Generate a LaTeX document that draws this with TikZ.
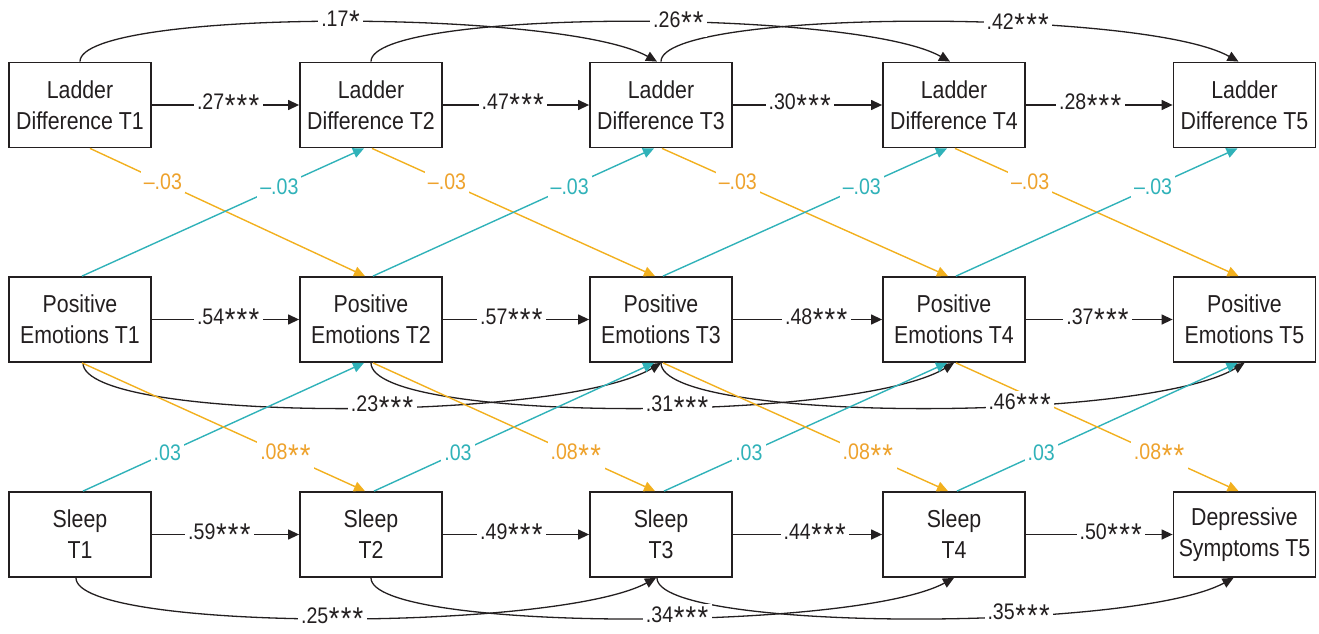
\documentclass[tikz,border=0pt]{standalone}
\usepackage{fontspec}
\usepackage{graphicx}
\setmainfont{Liberation Sans}[FakeStretch=0.87]
\usetikzlibrary{arrows.meta}
\definecolor{orline}{HTML}{F2B01E}
\definecolor{ortext}{HTML}{EEA22C}
\definecolor{tealc}{HTML}{30B2B9}
\definecolor{ink}{HTML}{231F20}
\newcommand\sg{\kern0.6pt\raisebox{-6.4pt}{\scalebox{1.4}{*}}\kern0.6pt}
\begin{document}
\begin{tikzpicture}[x=1pt,y=-1pt,
  box/.style={draw=ink,line width=1.8pt,fill=white,minimum width=142pt,minimum height=85pt,inner sep=0pt,align=center,text=ink,font=\fontsize{24.5}{31}\selectfont},
  blk/.style={draw=ink,line width=1.3pt,-{Triangle[length=11pt,width=10pt]}},
  orn/.style={draw=orline,line width=1.4pt,-{Triangle[length=11pt,width=10pt]}},
  tea/.style={draw=tealc,line width=1.4pt,-{Triangle[length=11pt,width=10pt]}},
  lab/.style={fill=white,inner sep=3pt,font=\fontsize{22.5}{22.5}\selectfont,text=ink},
  olab/.style={lab,text=ortext},
  tlab/.style={lab,text=tealc}]
\useasboundingbox (0,0) rectangle (1319,634);
% boxes
\foreach \i/\x in {1/80,2/371,3/661,4/954,5/1244.5} {
  \node[box] (L\i) at (\x,105) {Ladder\\Difference T\i};
  \node[box] (P\i) at (\x,319.5) {Positive\\Emotions T\i};
}
\foreach \i/\x in {1/80,2/371,3/661,4/954} {
  \node[box] (S\i) at (\x,534.5) {Sleep\\T\i};
}
\node[box] (S5) at (1244.5,534.5) {Depressive\\Symptoms T5};
% lag-2 arcs
\draw[blk] (L1.north) .. controls +(0,-53) and +(-95,-53) .. ([xshift=-4pt]L3.north) coordinate[pos=0.51] (u1);
\draw[blk] (L2.north) .. controls +(0,-53) and +(-95,-53) .. ([xshift=-4pt]L4.north) coordinate[pos=0.567] (u2);
\draw[blk] (L3.north) .. controls +(0,-53) and +(-95,-53) .. ([xshift=-6pt]L5.north) coordinate[pos=0.63] (u3);
\draw[blk] ([xshift=3pt]P1.south) .. controls +(0,60) and +(-100,60) .. (P3.south) coordinate[pos=0.56] (m1);
\draw[blk] (P2.south) .. controls +(0,60) and +(-100,60) .. (P4.south) coordinate[pos=0.565] (m2);
\draw[blk] (P3.south) .. controls +(0,60) and +(-100,60) .. (P5.south) coordinate[pos=0.63] (m3);
\draw[blk] ([xshift=-4pt]S1.south) .. controls +(0,54) and +(-100,54) .. ([xshift=-5pt]S3.south) coordinate[pos=0.505] (d1);
\draw[blk] (S2.south) .. controls +(0,54) and +(-100,54) .. (S4.south) coordinate[pos=0.565] (d2);
\draw[blk] ([xshift=-4pt]S3.south) .. controls +(0,54) and +(-100,54) .. ([xshift=-11pt]S5.south) coordinate[pos=0.64] (d3);
% cross-lagged diagonals
\foreach \i/\j/\o in {1/2/10,2/3/1,3/4/1,4/5/1} {
  \draw[orn] ([xshift=\o pt]L\i.south) -- ([xshift=-6pt]P\j.north) coordinate[pos=0.265] (oa\i);
  \draw[tea] ([xshift=2pt]P\i.north) -- ([xshift=-7pt]L\j.south) coordinate[pos=0.70] (ta\i);
  \draw[tea] ([xshift=3pt]S\i.north) -- ([xshift=-7pt]P\j.south) coordinate[pos=0.30] (tb\i);
  \draw[orn] ([xshift=2pt]P\i.south) -- ([xshift=-6pt]S\j.north) coordinate[pos=0.72] (ob\i);
}
% autoregressive paths
\foreach \a/\b/\p/\n in {L1/L2/0.52/hL1,L2/L3/0.48/hL2,L3/L4/0.45/hL3,L4/L5/0.44/hL4,
                          P1/P2/0.52/hP1,P2/P3/0.47/hP2,P3/P4/0.56/hP3,P4/P5/0.49/hP4,
                          S1/S2/0.46/hS1,S2/S3/0.47/hS2,S3/S4/0.55/hS3,S4/S5/0.58/hS4} {
  \draw[blk] (\a) -- (\b) coordinate[pos=\p] (\n);
}
% labels
\node[lab] at (u1) {.17\sg};
\node[lab] at (u2) {.26\sg\sg};
\node[lab] at (u3) {.42\sg\sg\sg};
\node[lab] at (m1) {.23\sg\sg\sg};
\node[lab] at (m2) {.31\sg\sg\sg};
\node[lab] at (m3) {.46\sg\sg\sg};
\node[lab] at (d1) {.25\sg\sg\sg};
\node[lab] at (d2) {.34\sg\sg\sg};
\node[lab] at (d3) {.35\sg\sg\sg};
\foreach \i in {1,2,3,4} {
  \node[olab] at (oa\i) {–.03};
  \node[tlab] at (ta\i) {–.03};
  \node[tlab] at (tb\i) {.03};
  \node[olab] at (ob\i) {.08\sg\sg};
}
\node[lab] at (hL1) {.27\sg\sg\sg};
\node[lab] at (hL2) {.47\sg\sg\sg};
\node[lab] at (hL3) {.30\sg\sg\sg};
\node[lab] at (hL4) {.28\sg\sg\sg};
\node[lab] at (hP1) {.54\sg\sg\sg};
\node[lab] at (hP2) {.57\sg\sg\sg};
\node[lab] at (hP3) {.48\sg\sg\sg};
\node[lab] at (hP4) {.37\sg\sg\sg};
\node[lab] at (hS1) {.59\sg\sg\sg};
\node[lab] at (hS2) {.49\sg\sg\sg};
\node[lab] at (hS3) {.44\sg\sg\sg};
\node[lab] at (hS4) {.50\sg\sg\sg};
\end{tikzpicture}
\end{document}
